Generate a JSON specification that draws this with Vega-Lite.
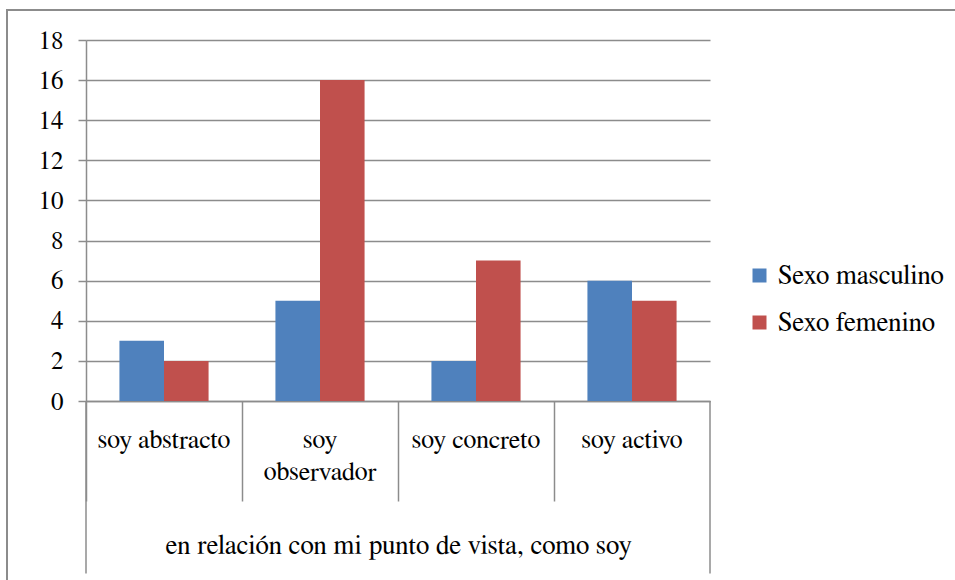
{
  "$schema": "https://vega.github.io/schema/vega-lite/v6.json",
  "width": 624,
  "height": 361,
  "autosize": {"type": "none"},
  "padding": {"left": 86, "top": 40, "right": 245, "bottom": 179},
  "background": "white",
  "config": {
    "view": {"stroke": null},
    "font": "FreeSerif",
    "axis": {"labelFont": "FreeSerif", "titleFont": "FreeSerif"},
    "legend": {"labelFont": "FreeSerif"}
  },
  "resolve": {"scale": {"x": "independent"}},
  "layer": [
    {
      "data": {"values": [{}]},
      "mark": {"type": "rect", "filled": false, "stroke": "#8c8c8c", "strokeWidth": 2},
      "encoding": {
        "x": {"datum": -0.1266, "type": "quantitative", "scale": {"domain": [0, 1]}, "axis": null},
        "x2": {"datum": 1.6},
        "y": {"datum": 19.5, "type": "quantitative"},
        "y2": {"datum": -12}
      }
    },
    {
      "layer": [
        {
          "data": {
            "values": [
              {"cat": "soy abstracto", "sexo": "Sexo masculino", "n": 3},
              {"cat": "soy abstracto", "sexo": "Sexo femenino", "n": 2},
              {"cat": "soy observador", "sexo": "Sexo masculino", "n": 5},
              {"cat": "soy observador", "sexo": "Sexo femenino", "n": 16},
              {"cat": "soy concreto", "sexo": "Sexo masculino", "n": 2},
              {"cat": "soy concreto", "sexo": "Sexo femenino", "n": 7},
              {"cat": "soy activo", "sexo": "Sexo masculino", "n": 6},
              {"cat": "soy activo", "sexo": "Sexo femenino", "n": 5}
            ]
          },
          "mark": {"type": "bar"},
          "encoding": {
            "x": {
              "field": "cat", "type": "nominal",
              "scale": {"domain": ["soy abstracto", "soy observador", "soy concreto", "soy activo"], "paddingInner": 0, "paddingOuter": 0},
              "axis": {
                "title": "en relación con mi punto de vista, como soy",
                "labelAngle": 0,
                "bandPosition": 0,
                "tickSize": 100,
                "tickColor": "#8c8c8c",
                "tickWidth": 1.5,
                "domainColor": "#8c8c8c",
                "domainWidth": 1.5,
                "labelPadding": -75,
                "labelFont": "FreeSerif",
                "labelFontSize": 26,
                "labelColor": "#000000",
                "labelLineHeight": 32,
                "labelOverlap": false,
                "labelLimit": 0,
                "labelExpr": "datum.value == 'soy observador' ? ['soy', 'observador'] : datum.value",
                "titleFont": "FreeSerif",
                "titleFontSize": 27,
                "titleFontWeight": "normal",
                "titleColor": "#000000",
                "titlePadding": 31
              }
            },
            "xOffset": {
              "field": "sexo", "type": "nominal",
              "scale": {"domain": ["Sexo masculino", "Sexo femenino"], "paddingInner": 0, "paddingOuter": 0.75}
            },
            "y": {
              "field": "n", "type": "quantitative",
              "scale": {"domain": [0, 18], "nice": false},
              "axis": {
                "title": null,
                "values": [0, 2, 4, 6, 8, 10, 12, 14, 16, 18],
                "tickSize": 8,
                "tickColor": "#8c8c8c",
                "tickWidth": 1.5,
                "domainColor": "#8c8c8c",
                "domainWidth": 1.5,
                "grid": true,
                "gridColor": "#8c8c8c",
                "gridWidth": 1.5,
                "labelFont": "FreeSerif",
                "labelFontSize": 25,
                "labelColor": "#000000",
                "labelPadding": 15
              }
            },
            "color": {
              "field": "sexo", "type": "nominal",
              "scale": {"domain": ["Sexo masculino", "Sexo femenino"], "range": ["#4F81BD", "#C0504D"]},
              "legend": {
                "title": null,
                "orient": "none",
                "legendX": 660,
                "legendY": 222,
                "padding": 0,
                "symbolType": "square",
                "symbolSize": 196,
                "symbolStrokeWidth": 0,
                "labelFont": "FreeSerif",
                "labelFontSize": 27,
                "labelColor": "#000000",
                "labelOffset": 5,
                "rowPadding": 19,
                "labelLimit": 0
              }
            }
          }
        },
        {
          "data": {"values": [{}]},
          "mark": {"type": "rule", "color": "#8c8c8c", "strokeWidth": 1.5},
          "encoding": {
            "x": {"datum": "soy abstracto", "type": "nominal", "bandPosition": 0},
            "y": {"datum": 0, "type": "quantitative"},
            "y2": {"datum": -8.6}
          }
        },
        {
          "data": {"values": [{}]},
          "mark": {"type": "rule", "color": "#8c8c8c", "strokeWidth": 1.5},
          "encoding": {
            "x": {"datum": "soy activo", "type": "nominal", "bandPosition": 1},
            "y": {"datum": 0, "type": "quantitative"},
            "y2": {"datum": -8.6}
          }
        }
      ]
    }
  ]
}
